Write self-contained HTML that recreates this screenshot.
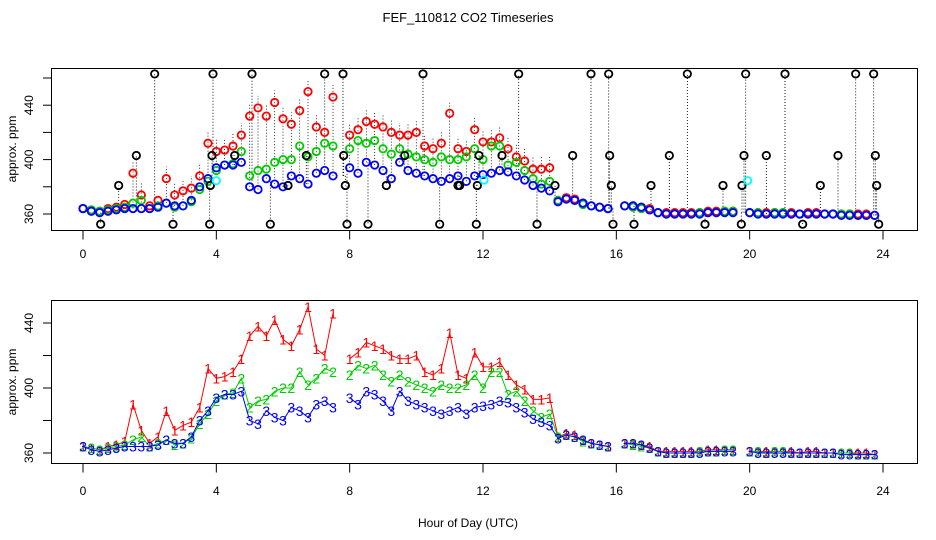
<!DOCTYPE html>
<html><head><meta charset="utf-8"><style>
html,body{margin:0;padding:0;background:#fff;}
svg{display:block;font-family:"Liberation Sans",Arial,sans-serif;}
</style></head><body>
<svg id="chart" width="936" height="540" viewBox="0 0 936 540" xmlns="http://www.w3.org/2000/svg">
<text x="468" y="22" text-anchor="middle" font-size="13">FEF_110812  CO2 Timeseries</text>
<rect x="51.5" y="68.5" width="866" height="162" fill="none" stroke="#000"/>
<rect x="51.5" y="300.5" width="866" height="163" fill="none" stroke="#000"/>
<text transform="translate(16,149) rotate(-90)" text-anchor="middle" font-size="12">approx. ppm</text>
<text transform="translate(16,382) rotate(-90)" text-anchor="middle" font-size="12">approx. ppm</text>
<text x="468" y="527" text-anchor="middle" font-size="12">Hour of Day (UTC)</text>
<g id="top-g"></g>
<g id="bot-g"></g>
</svg>
<script>
const hours = [0,0.25,0.5,0.75,1,1.25,1.5,1.75,2,2.25,2.5,2.75,3,3.25,3.5,3.75,4,4.25,4.5,4.75,5,5.25,5.5,5.75,6,6.25,6.5,6.75,7,7.25,7.5,7.75,8,8.25,8.5,8.75,9,9.25,9.5,9.75,10,10.25,10.5,10.75,11,11.25,11.5,11.75,12,12.25,12.5,12.75,13,13.25,13.5,13.75,14,14.25,14.5,14.75,15,15.25,15.5,15.75,16,16.25,16.5,16.75,17,17.25,17.5,17.75,18,18.25,18.5,18.75,19,19.25,19.5,19.75,20,20.25,20.5,20.75,21,21.25,21.5,21.75,22,22.25,22.5,22.75,23,23.25,23.5,23.75];
const red = [364,363,362,364,365,367,390,374,366,370,386,374,377,379,388,412,406,407,410,418,432,438,432,442,430,426,436,450,424,420,446,null,418,422,428,426,424,420,418,418,420,410,408,412,434,408,406,422,413,413,416,408,402,399,393,393,394,370,372,371,368,366,365,364,null,366,366,365,364,361,361,361,361,361,361,362,362,362,362,null,361,361,361,361,361,361,360,361,361,360,360,360,360,360,360,359];
const green = [364,363,362,363,364,365,368,370,364,366,368,365,366,369,378,384,392,396,397,406,388,392,393,398,400,400,410,402,406,412,410,null,408,414,412,414,408,404,408,404,402,400,398,402,400,400,402,408,400,410,410,396,398,392,386,382,384,370,371,370,367,366,365,364,null,366,365,364,363,361,360,360,360,360,361,361,361,362,362,null,361,361,360,361,361,360,360,360,360,360,360,360,360,359,359,359];
const blue = [364,362,361,362,363,364,364,364,364,365,368,366,366,370,380,386,394,396,396,398,380,378,386,382,380,388,386,382,390,392,388,null,394,390,398,396,392,386,398,392,390,388,386,384,386,388,384,388,389,390,392,391,388,385,381,379,377,369,371,370,368,366,365,364,null,366,366,365,363,361,360,360,360,360,360,361,361,361,361,null,361,360,360,360,360,360,360,360,360,360,360,359,359,359,359,359];
const outlierHours = [2.15,3.9,5.07,7.25,7.8,10.2,13.07,15.24,15.77,18.13,19.88,21.06,23.18,23.72,0.53,2.7,3.8,5.62,7.92,8.55,10.7,11.8,13.62,15.9,16.53,18.66,19.75,21.59,23.87,1.6,3.87,4.55,6.7,7.82,9.65,11.88,12.57,14.69,15.8,17.59,19.83,20.5,22.65,23.77,1.07,3.82,6.15,7.87,9.1,11.25,11.3,11.83,14.16,15.85,17.04,19.2,19.77,22.12,23.81];
const outlierValues = [463,463,463,463,463,463,463,463,463,463,463,463,463,463,352.5,352.5,352.5,352.5,352.5,352.5,352.5,352.5,352.5,352.5,352.5,352.5,352.5,352.5,352.5,403,403,403,403,403,403,403,403,403,403,403,403,403,403,403,381,381,381,381,381,381,381,381,381,381,381,381,381,381,381];
const cyanHours = [4.0,12.03,19.94];
const cyanValues = [384.5,385,384.5];
const xTicks = [0,4,8,12,16,20,24];
const yTicks = [360,380,400,420,440,460];
const yTickLabels = ["360","","400","","440",""];
const yTicksBot = [360,380,400,420,440];
const yTickLabelsBot = ["360","","400","","440"];

const NS="http://www.w3.org/2000/svg";
const X = h => 83 + h*(800/24);
const YT = v => 214 - (v-360)*1.36;
const YB = v => 453 - (v-360)*1.625;
function mk(tag, attrs, parent){const e=document.createElementNS(NS,tag);for(const k in attrs)e.setAttribute(k,attrs[k]);parent.appendChild(e);return e;}
const top_=document.getElementById('top-g'), bot=document.getElementById('bot-g');

function axes(g, yfun, ticks, labels, bottomY, labelY, ylabelName){
  mk('line',{x1:X(0),x2:X(24),y1:bottomY,y2:bottomY,stroke:'#000'},g);
  xTicks.forEach(t=>{
    const l=mk('line',{x1:X(t),x2:X(t),y1:bottomY,y2:bottomY+9,stroke:'#000'},g);
    
    
    const tx=mk('text',{x:X(t),y:labelY,'text-anchor':'middle','font-size':12},g);tx.textContent=t;
    
    
  });
  ticks.forEach((t,i)=>{
    const y=yfun(t);
    const l=mk('line',{x1:43,x2:51,y1:y,y2:y,stroke:'#000'},g);
    
    
    if(labels[i]){const tx=mk('text',{transform:`translate(33,${y}) rotate(-90)`,'text-anchor':'middle','font-size':12},g);tx.textContent=labels[i];
      
      }
  });
}
axes(top_, YT, yTicks, yTickLabels, 230.5, 258, 'top-y-tick-label');
axes(bot, YB, yTicksBot, yTickLabelsBot, 463.5, 495, 'bottom-y-tick-label');

hours.forEach((h,i)=>{
  if(red[i]==null||blue[i]==null) return;
  if(red[i]-blue[i]<6) return;
  const l=mk('line',{x1:X(h),x2:X(h),y1:YT(blue[i]),y2:YT(red[i])-12,stroke:'#000','stroke-width':0.8,'stroke-dasharray':'1,2'},top_);
  
  
});
function nearestIdx(h){let b=0;hours.forEach((x,i)=>{if(Math.abs(x-h)<Math.abs(hours[b]-h))b=i;});return b;}
outlierHours.forEach((h,i)=>{
  let j=nearestIdx(h); let base=blue[j]; if(base==null) base=blue[j-1]||blue[j+1]||362;
  const l=mk('line',{x1:X(h),x2:X(h),y1:YT(base),y2:YT(outlierValues[i]),stroke:'#000','stroke-width':0.9,'stroke-dasharray':'1,2'},top_);
  
  
});
function circles(arr,color,name){
  hours.forEach((h,i)=>{ if(arr[i]==null) return;
    const c=mk('circle',{cx:X(h),cy:YT(arr[i]),r:3.7,fill:'none',stroke:color,'stroke-width':1.8},top_);
    
    
  });
}
circles(red,'#f00','red-point');
circles(green,'#0c0','green-point');
circles(blue,'#00f','blue-point');
outlierHours.forEach((h,i)=>{
  const c=mk('circle',{cx:X(h),cy:YT(outlierValues[i]),r:3.7,fill:'none',stroke:'#000','stroke-width':1.8},top_);
  
  
});
cyanHours.forEach((h,i)=>{
  const c=mk('circle',{cx:X(h),cy:YT(cyanValues[i]),r:3.7,fill:'none',stroke:'#0ff','stroke-width':1.8},top_);
  
  
});

function series(arr,color,ch,name){
  let d='';let pen=false;
  hours.forEach((h,i)=>{ if(arr[i]==null){pen=false;return;} d+=(pen?'L':'M')+X(h).toFixed(1)+','+YB(arr[i]).toFixed(1);pen=true;});
  const p=mk('path',{d:d,fill:'none',stroke:color,'stroke-width':1},bot);
  
  
  hours.forEach((h,i)=>{ if(arr[i]==null) return;
    const t=mk('text',{x:X(h),y:YB(arr[i])+5,'text-anchor':'middle','font-size':14,fill:color},bot);t.textContent=ch;
    
    
  });
}
series(red,'#f00','1','series-1');
series(green,'#0c0','2','series-2');
series(blue,'#00f','3','series-3');
</script>
</body></html>
